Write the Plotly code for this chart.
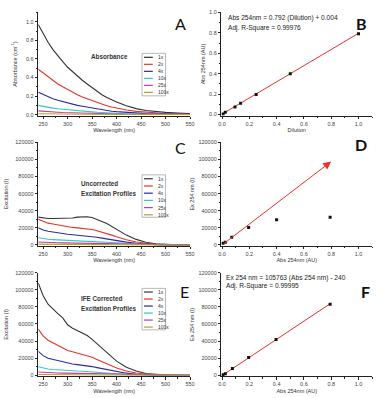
import plotly.graph_objects as go

# ---------------- data ----------------
series_names = ["1x", "2x", "4x", "10x", "25x", "100x"]
series_colors = ["#333333", "#e8322a", "#2a2a9a", "#30c8c8", "#c83c9c", "#b4a22a"]

wavelength = [240, 250, 260, 270, 280, 290, 300, 310, 320, 330, 340, 350, 360, 370,
              380, 390, 400, 420, 440, 460, 480, 500, 525, 550]

abs_1x = [0.97, 0.87, 0.78, 0.70, 0.63, 0.57, 0.51, 0.46, 0.41, 0.37, 0.33, 0.29, 0.25, 0.215,
          0.185, 0.16, 0.135, 0.095, 0.065, 0.045, 0.032, 0.024, 0.017, 0.012]
abs_2x = [0.49, 0.45, 0.40, 0.36, 0.33, 0.30, 0.27, 0.24, 0.215, 0.19, 0.17, 0.15, 0.13, 0.11,
          0.095, 0.082, 0.07, 0.05, 0.035, 0.025, 0.018, 0.013, 0.010, 0.007]
abs_4x = [0.24, 0.215, 0.19, 0.17, 0.155, 0.14, 0.125, 0.11, 0.10, 0.09, 0.08, 0.07, 0.06, 0.05,
          0.043, 0.037, 0.032, 0.023, 0.016, 0.011, 0.008, 0.006, 0.004, 0.003]
abs_10x = [0.10, 0.088, 0.078, 0.07, 0.064, 0.058, 0.052, 0.047, 0.042, 0.038, 0.034, 0.03, 0.026,
           0.022, 0.019, 0.016, 0.014, 0.010, 0.007, 0.005, 0.004, 0.003, 0.002, 0.002]
abs_25x = [0.04, 0.035, 0.031, 0.028, 0.026, 0.023, 0.021, 0.019, 0.017, 0.015, 0.014, 0.012, 0.010,
           0.009, 0.008, 0.007, 0.006, 0.004, 0.003, 0.002, 0.002, 0.001, 0.001, 0.001]
abs_100x = [0.010, 0.009, 0.008, 0.007, 0.0065, 0.006, 0.0055, 0.005, 0.0045, 0.004, 0.0035, 0.003,
            0.003, 0.0025, 0.002, 0.002, 0.0015, 0.001, 0.001, 0.0005, 0.0005, 0.0, 0.0, 0.0]

unc_1x = [32500, 31500, 31000, 31000, 31200, 31000, 31000, 31500, 32500, 33000, 33000, 32000, 30000,
          27500, 25000, 21500, 18000, 11500, 6500, 3200, 1400, 600, 200, 100]
unc_2x = [30000, 27500, 25500, 24500, 23500, 22000, 21000, 20500, 20000, 19500, 19000, 18000, 16500,
          15000, 13500, 11500, 9500, 6000, 3500, 1700, 700, 300, 100, 50]
unc_4x = [20000, 17500, 16000, 15000, 14000, 13000, 12500, 12000, 11500, 11000, 10500, 9800, 9000,
          8000, 7000, 6000, 5000, 3300, 2000, 1000, 400, 150, 50, 0]
unc_10x = [8500, 7300, 6700, 6300, 6000, 5700, 5500, 5200, 5000, 4800, 4500, 4200, 3900, 3500,
           3100, 2700, 2300, 1500, 900, 500, 200, 100, 30, 0]
unc_25x = [3500, 3100, 2900, 2700, 2600, 2500, 2400, 2300, 2200, 2100, 2000, 1900, 1700, 1500,
           1300, 1100, 950, 650, 400, 200, 100, 40, 10, 0]
unc_100x = [1000, 900, 850, 800, 780, 760, 740, 720, 700, 660, 620, 580, 520, 460,
            400, 340, 280, 180, 110, 60, 30, 10, 0, 0]

cor_1x = [108000, 93000, 83000, 77000, 72000, 67000, 59000, 55000, 52000, 49500, 46500, 42000, 37000,
          31500, 26500, 21000, 16500, 9500, 5000, 2200, 900, 350, 100, 50]
cor_2x = [54000, 46000, 41000, 38000, 35500, 32000, 29000, 27500, 26000, 24500, 23000, 21000, 18500,
          16000, 13500, 11000, 8500, 5000, 2600, 1200, 500, 200, 60, 20]
cor_4x = [28000, 23000, 20000, 18500, 17000, 15500, 14000, 13200, 12500, 12000, 11200, 10200, 9000,
          7800, 6500, 5300, 4200, 2500, 1300, 600, 250, 100, 30, 0]
cor_10x = [10000, 8200, 7300, 6800, 6300, 5900, 5600, 5300, 5000, 4800, 4500, 4200, 3800, 3400,
           2900, 2400, 1900, 1100, 600, 300, 100, 50, 0, 0]
cor_25x = [3800, 3300, 3000, 2800, 2650, 2500, 2400, 2300, 2200, 2100, 2000, 1850, 1650, 1450,
           1250, 1050, 850, 550, 300, 150, 60, 20, 0, 0]
cor_100x = [1000, 900, 850, 800, 780, 760, 740, 720, 700, 660, 620, 580, 520, 460,
            400, 340, 280, 170, 100, 50, 20, 10, 0, 0]

abs_series = [abs_1x, abs_2x, abs_4x, abs_10x, abs_25x, abs_100x]
unc_series = [unc_1x, unc_2x, unc_4x, unc_10x, unc_25x, unc_100x]
cor_series = [cor_1x, cor_2x, cor_4x, cor_10x, cor_25x, cor_100x]

# Panel B: absorbance at 254 nm vs dilution
dilution = [1.0, 0.5, 0.25, 0.136, 0.095, 0.024, 0.008]
abs254 = [0.792, 0.40, 0.197, 0.11, 0.075, 0.022, 0.006]
fitB_slope, fitB_intercept = 0.792, 0.004
fitB_x = [0.0, 1.0]

# Panel D: uncorrected excitation at 254 nm vs absorbance
abs254_D = [0.792, 0.40, 0.195, 0.071, 0.024, 0.007]
ex254_unc = [32300, 29600, 20400, 8900, 3100, 2000]
arrowD_start = [0.0, 0.0]
arrowD_end = [0.8, 97500]

# Panel F: corrected excitation at 254 nm vs absorbance
abs254_F = [0.792, 0.396, 0.195, 0.076, 0.024, 0.007]
ex254_cor = [83000, 41800, 20800, 8000, 1800, 600]
fitF_slope, fitF_intercept = 105763, -240
fitF_x = [0.0, 0.8]

# ---------------- layout helpers ----------------
W, H = 384, 398
def px(x):
    return x / W
def py(y):
    return 1 - y / H

FONT = "Liberation Sans, Arial, sans-serif"
TICKC = "#444444"

fig = go.Figure()

def add_curves(series, xa, ya):
    for name, col, vals in zip(series_names, series_colors, series):
        fig.add_trace(go.Scatter(x=wavelength, y=vals, mode="lines", name=name,
                                 line=dict(color=col, width=1.1),
                                 xaxis=xa, yaxis=ya, showlegend=False))

add_curves(abs_series, "x", "y")
add_curves(unc_series, "x3", "y3")
add_curves(cor_series, "x5", "y5")

# B
fig.add_trace(go.Scatter(x=fitB_x, y=[fitB_slope * v + fitB_intercept for v in fitB_x],
                         mode="lines", line=dict(color="#e8322a", width=1),
                         xaxis="x2", yaxis="y2", showlegend=False))
fig.add_trace(go.Scatter(x=dilution, y=abs254, mode="markers",
                         marker=dict(symbol="square", size=3, color="#111111"),
                         xaxis="x2", yaxis="y2", showlegend=False))
# D
fig.add_trace(go.Scatter(x=abs254_D, y=ex254_unc, mode="markers",
                         marker=dict(symbol="square", size=3, color="#111111"),
                         xaxis="x4", yaxis="y4", showlegend=False))
# F
fig.add_trace(go.Scatter(x=fitF_x, y=[fitF_slope * v + fitF_intercept for v in fitF_x],
                         mode="lines", line=dict(color="#e8322a", width=1),
                         xaxis="x6", yaxis="y6", showlegend=False))
fig.add_trace(go.Scatter(x=abs254_F, y=ex254_cor, mode="markers",
                         marker=dict(symbol="square", size=3, color="#111111"),
                         xaxis="x6", yaxis="y6", showlegend=False))

def xax(dom, rng, tickvals, ticktext, title, anchor, minor_dtick, standoff=2):
    return dict(domain=dom, range=rng, anchor=anchor, tickvals=tickvals, ticktext=ticktext,
                showline=True, linecolor="#222222", linewidth=1, ticks="outside", ticklen=2.5,
                tickwidth=0.8, tickcolor="#222222", showgrid=False, zeroline=False,
                tickfont=dict(size=5.5, color=TICKC, family=FONT),
                minor=dict(ticks="outside", ticklen=1.5, dtick=minor_dtick, tickcolor="#222222", tickwidth=0.6),
                title=dict(text=title, font=dict(size=5.5, color="#333333", family=FONT), standoff=standoff))

def yax(dom, rng, tickvals, ticktext, title, anchor, minor_dtick, standoff=4):
    return dict(domain=dom, range=rng, anchor=anchor, tickvals=tickvals, ticktext=ticktext,
                showline=True, linecolor="#222222", linewidth=1, ticks="outside", ticklen=2.5,
                tickwidth=0.8, tickcolor="#222222", showgrid=False, zeroline=False,
                tickfont=dict(size=5.5, color=TICKC, family=FONT),
                minor=dict(ticks="outside", ticklen=1.5, dtick=minor_dtick, tickcolor="#222222", tickwidth=0.6),
                title=dict(text=title, font=dict(size=5.5, color="#333333", family=FONT), standoff=standoff))

wl_ticks = [250, 300, 350, 400, 450, 500, 550]
wl_text = [str(v) for v in wl_ticks]
abs_ticks = [0.0, 0.2, 0.4, 0.6, 0.8, 1.0]
abs_text = ["0.0", "0.2", "0.4", "0.6", "0.8", "1.0"]
ex_ticks = [0, 20000, 40000, 60000, 80000, 100000, 120000]
ex_text = [str(v) for v in ex_ticks]

left_dom = [px(36), px(191)]
right_dom = [px(223), px(377)]
rowA = [py(114), py(9.6)]
rowC = [py(246), py(141)]
rowE = [py(378), py(273)]

fig.update_layout(
    width=W, height=H, margin=dict(l=0, r=0, t=0, b=0),
    paper_bgcolor="white", plot_bgcolor="white", showlegend=False,
    font=dict(family=FONT),
    xaxis=xax(left_dom, [240, 550], wl_ticks, wl_text, "Wavelength (nm)", "y", 25),
    yaxis=yax(rowA, [-0.01, 1.1], abs_ticks, abs_text, "Absorbance (cm<sup>-1</sup>)", "x", 0.1, 8),
    xaxis2=xax(right_dom, [-0.005, 1.1], abs_ticks, abs_text, "Dilution", "y2", 0.1),
    yaxis2=yax(rowA, [-0.01, 1.0], abs_ticks, abs_text, "Abs 254nm (AU)", "x2", 0.1, 3),
    xaxis3=xax(left_dom, [240, 550], wl_ticks, wl_text, "Wavelength (nm)", "y3", 25),
    yaxis3=yax(rowC, [-1100, 120000], ex_ticks, ex_text, "Excitation (I)", "x3", 10000, 6),
    xaxis4=xax(right_dom, [-0.005, 1.1], abs_ticks, abs_text, "Abs 254nm (AU)", "y4", 0.1),
    yaxis4=yax(rowC, [-1100, 120000], ex_ticks, ex_text, "Ex 254 nm (I)", "x4", 10000, 3),
    xaxis5=xax(left_dom, [240, 550], wl_ticks, wl_text, "Wavelength (nm)", "y5", 25),
    yaxis5=yax(rowE, [-1100, 120000], ex_ticks, ex_text, "Excitation (I)", "x5", 10000, 6),
    xaxis6=xax(right_dom, [-0.005, 1.1], abs_ticks, abs_text, "Abs 254nm (AU)", "y6", 0.1),
    yaxis6=yax(rowE, [-1100, 120000], ex_ticks, ex_text, "Ex 254 nm (I)", "x6", 10000, 3),
)

shapes = []
annotations = []

def add_legend(top, bottom, row0, step):
    shapes.append(dict(type="rect", xref="paper", yref="paper",
                       x0=px(142), x1=px(166), y0=py(bottom), y1=py(top),
                       line=dict(color="#888888", width=0.6), fillcolor="white", layer="above"))
    for i, (name, col) in enumerate(zip(series_names, series_colors)):
        yy = row0 + step * i
        shapes.append(dict(type="line", xref="paper", yref="paper",
                           x0=px(144), x1=px(153), y0=py(yy), y1=py(yy),
                           line=dict(color=col, width=1.2), layer="above"))
        annotations.append(dict(xref="paper", yref="paper", x=px(156), y=py(yy),
                                xanchor="left", yanchor="middle", showarrow=False,
                                text=name, font=dict(size=5, color="#333333", family=FONT)))

add_legend(51, 94, 55, 7.1)
add_legend(174, 217, 178, 7.3)
add_legend(289, 331, 292.7, 7.1)

def label(x, y, text, size=6.3, bold=False, anchor="left", color="#333333", family=FONT):
    annotations.append(dict(xref="paper", yref="paper", x=px(x), y=py(y), xanchor=anchor,
                            yanchor="middle", showarrow=False,
                            text=f"<b>{text}</b>" if bold else text,
                            font=dict(size=size, color=color, family=family)))

label(109, 54, "Absorbance", bold=True, anchor="center")
label(78, 183, "Uncorrected", bold=True)
label(78, 193, "Excitation Profiles", bold=True)
label(78, 299, "IFE Corrected", bold=True)
label(78, 309, "Excitation Profiles", bold=True)

label(228, 15, "Abs 254nm = 0.792 (Dilution) + 0.004", size=6.6, color="#222222")
label(228, 25, "Adj. R-Square = 0.99976", size=6.6, color="#222222")
label(226, 278, "Ex 254 nm = 105763 (Abs 254 nm) - 240", size=6.6, color="#222222")
label(226, 287, "Adj. R-Square = 0.99995", size=6.6, color="#222222")

LET = "Lato, Open Sans, sans-serif"
label(181, 21, "A", size=16, anchor="center", color="#111111", family=LET)
label(366, 21, "B", size=16, bold=True, anchor="center", color="#111111", family=LET)
label(181, 146, "C", size=16, anchor="center", color="#111111", family=LET)
label(366, 143, "D", size=16, bold=True, anchor="center", color="#111111", family=LET)
label(185, 292, "E", size=16, anchor="center", color="#111111", family=LET)
label(370, 292, "F", size=16, bold=True, anchor="center", color="#111111", family=LET)

# Arrow in panel D (data coordinates)
annotations.append(dict(xref="x4", yref="y4", axref="x4", ayref="y4",
                        x=arrowD_end[0], y=arrowD_end[1], ax=arrowD_start[0], ay=arrowD_start[1],
                        text="", showarrow=True, arrowhead=2, arrowsize=1.6, arrowwidth=1,
                        arrowcolor="#e8322a"))

fig.update_layout(shapes=shapes, annotations=annotations)
fig.write_html("out.html", config={"displayModeBar": False},
               post_script="document.body.style.margin='0';document.body.style.padding='0';")
